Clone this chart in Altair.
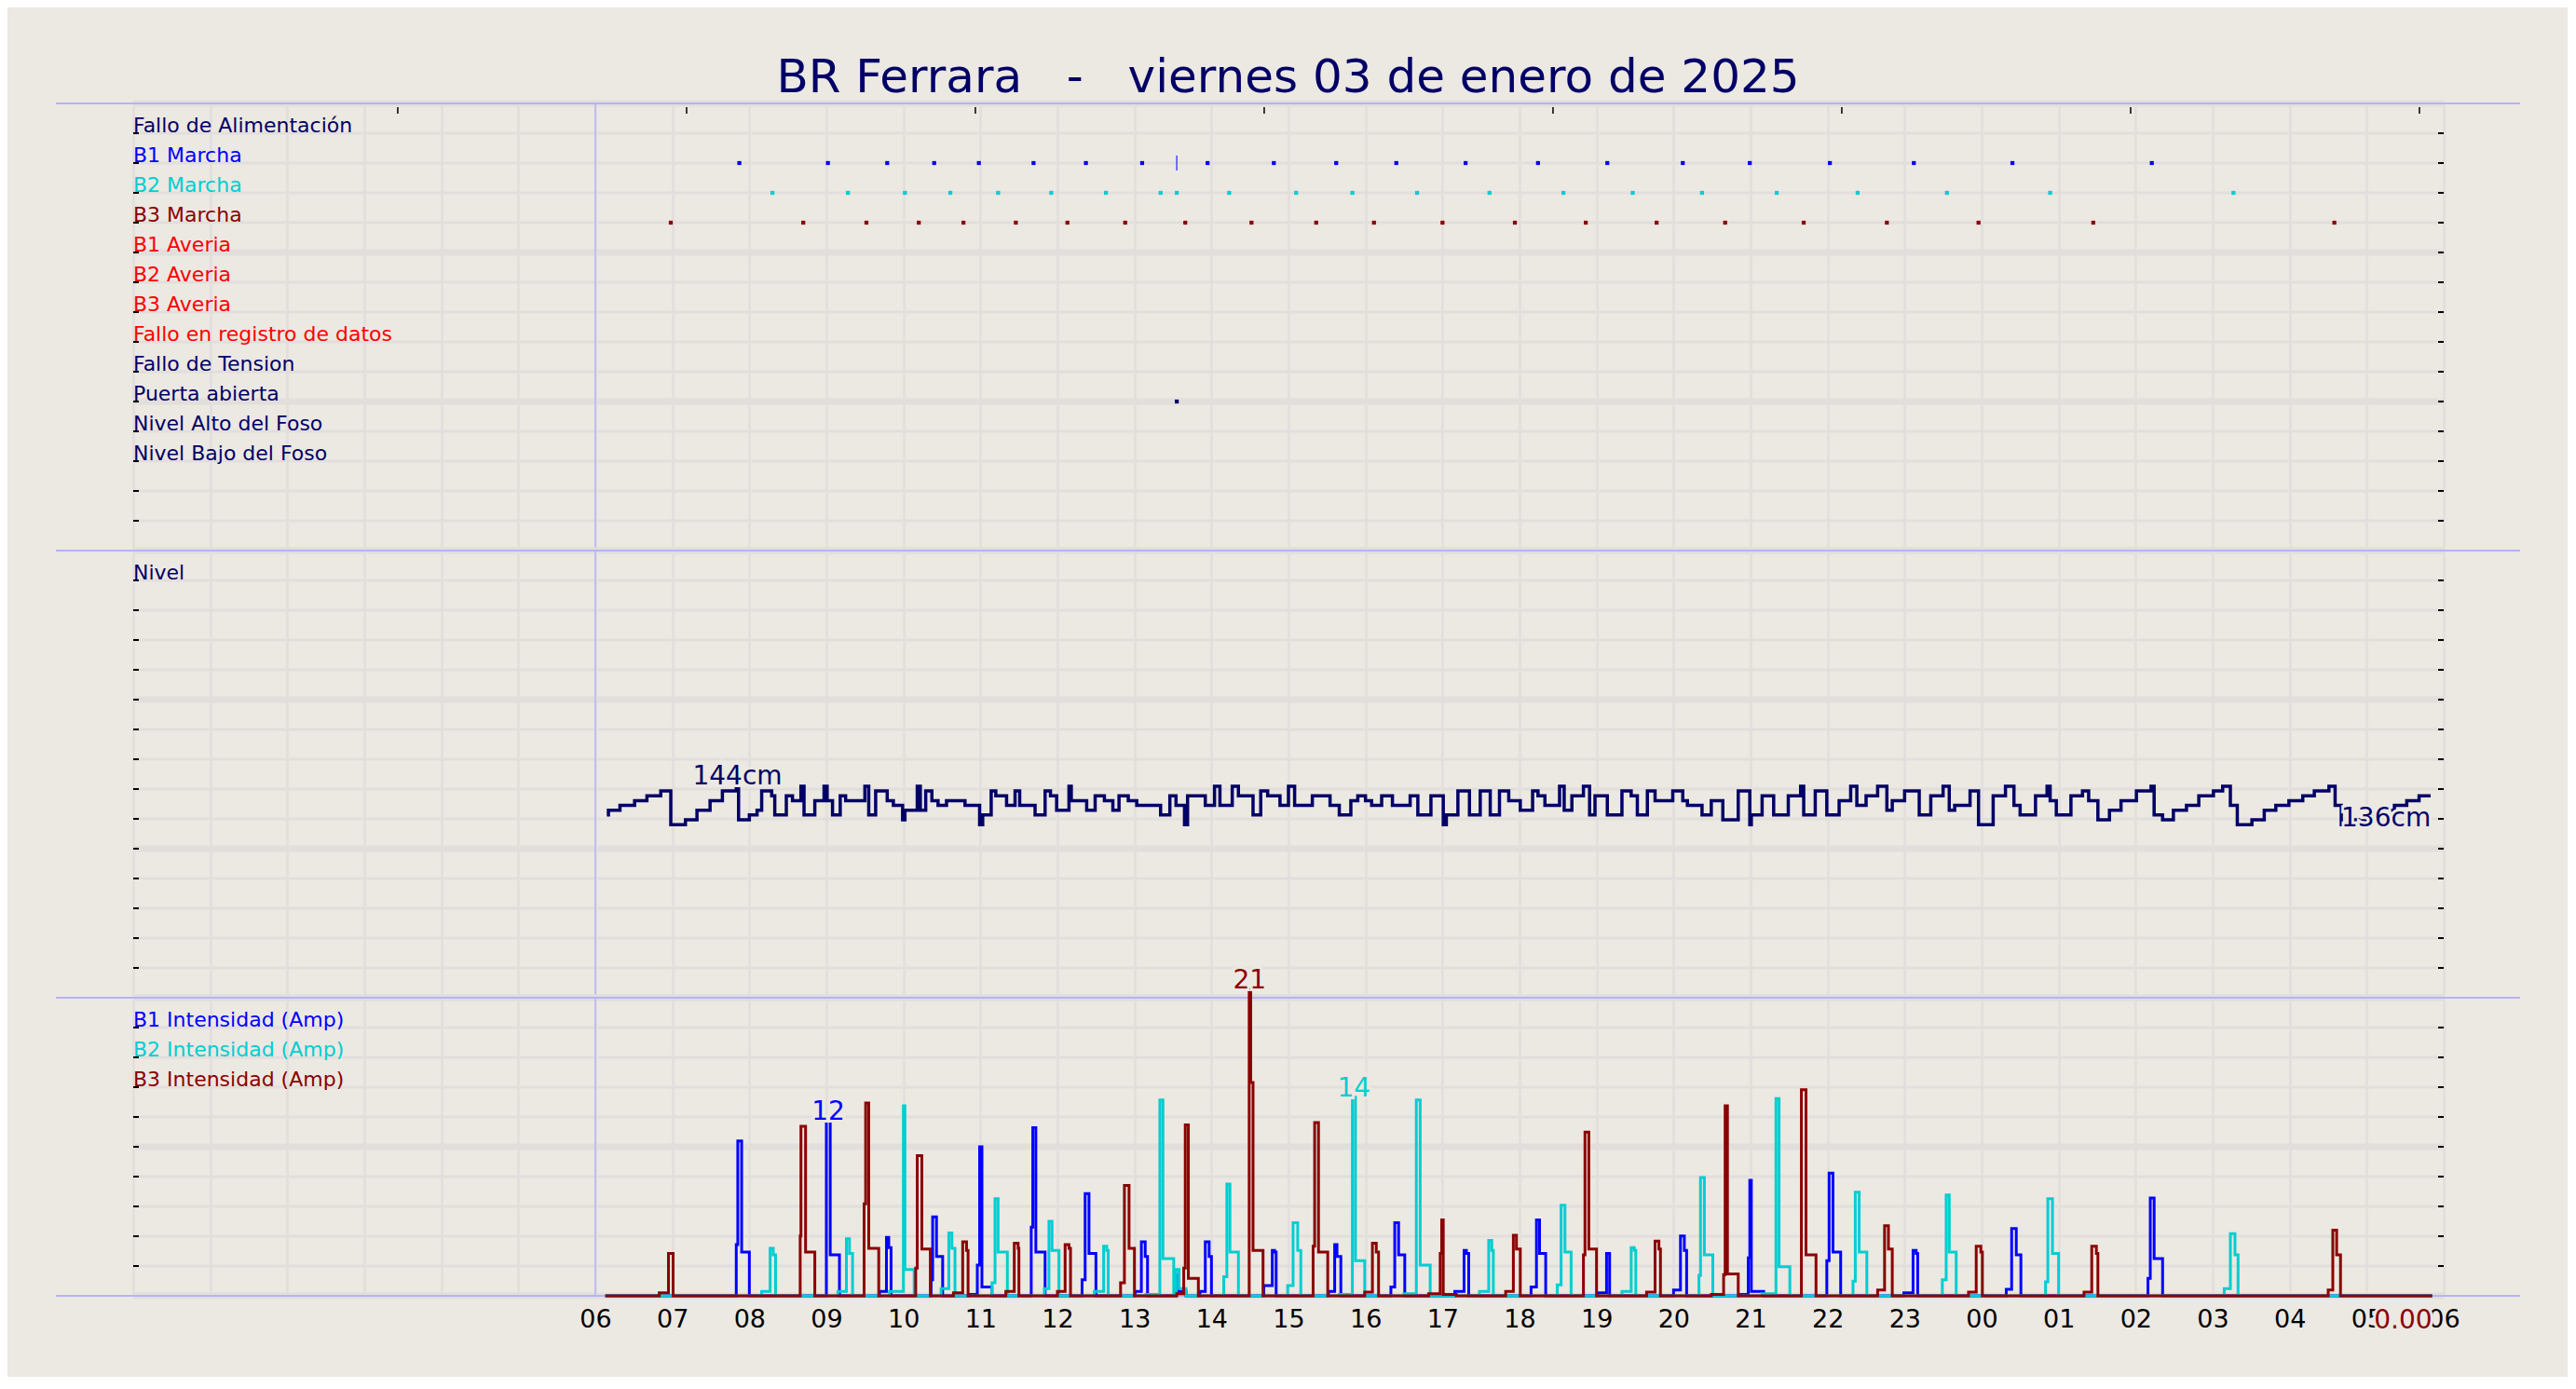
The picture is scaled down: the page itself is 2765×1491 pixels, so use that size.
import altair as alt
import pandas as pd

# ---------------- colours / fonts ----------------
BG = "#ECE8E2"
GRID = "#E2DEDC"
LAV = "#B4B4F4"
NAVY = "#000066"
BLUE = "#0000FF"
CYAN = "#00CED1"
DRED = "#8B0000"
RED = "#FF0000"
FONT = "DejaVu Sans"

W = 2480
H1, H2, H3 = 480, 480, 320

# ---------------- data ----------------
HOURS = list(range(0, 31))
TITLE = "BR Ferrara\u00a0\u00a0\u00a0-\u00a0\u00a0\u00a0viernes 03 de enero de 2025"

ROW_LABELS = ["Fallo de Alimentación", "B1 Marcha", "B2 Marcha", "B3 Marcha",
              "B1 Averia", "B2 Averia", "B3 Averia", "Fallo en registro de datos",
              "Fallo de Tension", "Puerta abierta", "Nivel Alto del Foso", "Nivel Bajo del Foso"]
ROW_COLORS = [NAVY, BLUE, CYAN, DRED, RED, RED, RED, RED, NAVY, NAVY, NAVY, NAVY]

B1_MARCHA = [7.87, 9.02, 9.79, 10.40, 10.98, 11.69, 12.37, 13.10, 13.95, 14.81, 15.62,
             16.40, 17.30, 18.24, 19.14, 20.12, 20.99, 22.03, 23.12, 24.40, 26.21]
B1_MARCHA_LONG = [13.55]
B2_MARCHA = [8.30, 9.28, 10.02, 10.61, 11.23, 11.92, 12.63, 13.34, 13.55, 14.23, 15.10,
             15.83, 16.67, 17.61, 18.57, 19.47, 20.37, 21.34, 22.39, 23.55, 24.89, 27.27]
B3_MARCHA = [6.98, 8.70, 9.52, 10.20, 10.78, 11.46, 12.13, 12.88, 13.66, 14.52, 15.36,
             16.11, 17.00, 17.94, 18.86, 19.78, 20.67, 21.69, 22.77, 23.96, 25.45, 28.58]
PUERTA = [13.55]
TOP_TICKS = [3.435, 7.185, 10.935, 14.685, 18.435, 22.185, 25.935, 29.685]

NIVEL = [(6.15, 138), (6.17, 139), (6.32, 140), (6.51, 141), (6.67, 142), (6.85, 143), (6.98, 136),
         (7.17, 137), (7.32, 139), (7.49, 141), (7.65, 143), (7.83, 144), (7.86, 137), (8.00, 138),
         (8.10, 139), (8.16, 143), (8.29, 142), (8.33, 138), (8.48, 142), (8.56, 141), (8.67, 144),
         (8.71, 138), (8.85, 141), (8.97, 144), (9.01, 141), (9.08, 138), (9.18, 142), (9.25, 141),
         (9.50, 144), (9.55, 138), (9.64, 143), (9.79, 141), (9.87, 140), (9.99, 137), (10.02, 139),
         (10.18, 144), (10.22, 139), (10.29, 143), (10.37, 141), (10.45, 140), (10.56, 141),
         (10.80, 140), (10.99, 136), (11.03, 138), (11.14, 143), (11.20, 142), (11.34, 140),
         (11.45, 143), (11.51, 140), (11.71, 138), (11.84, 143), (11.91, 142), (11.99, 139),
         (12.15, 144), (12.18, 141), (12.38, 139), (12.49, 142), (12.61, 141), (12.72, 139),
         (12.80, 142), (12.92, 141), (13.03, 140), (13.34, 138), (13.46, 142), (13.54, 140),
         (13.65, 136), (13.69, 142), (13.92, 140), (14.04, 144), (14.11, 140), (14.27, 144),
         (14.35, 142), (14.54, 138), (14.64, 143), (14.73, 142), (14.89, 140), (15.00, 144),
         (15.08, 140), (15.31, 142), (15.54, 140), (15.66, 138), (15.81, 141), (15.90, 142),
         (16.00, 141), (16.08, 140), (16.21, 142), (16.35, 140), (16.58, 142), (16.68, 138),
         (16.85, 142), (17.01, 136), (17.05, 138), (17.20, 143), (17.35, 138), (17.49, 143),
         (17.62, 138), (17.74, 143), (17.86, 141), (18.01, 139), (18.17, 143), (18.24, 142),
         (18.33, 140), (18.52, 144), (18.58, 139), (18.68, 142), (18.83, 144), (18.91, 138),
         (18.98, 142), (19.14, 138), (19.33, 143), (19.45, 142), (19.53, 138), (19.66, 143),
         (19.76, 141), (19.99, 143), (20.12, 141), (20.18, 140), (20.37, 138), (20.49, 141),
         (20.64, 137), (20.84, 143), (20.99, 136), (21.01, 138), (21.15, 142), (21.30, 138),
         (21.49, 142), (21.65, 144), (21.69, 138), (21.84, 143), (21.99, 138), (22.15, 141),
         (22.30, 144), (22.38, 140), (22.50, 142), (22.65, 144), (22.77, 139), (22.84, 141),
         (23.00, 143), (23.19, 138), (23.34, 142), (23.50, 144), (23.58, 139), (23.65, 140),
         (23.85, 143), (23.96, 136), (24.15, 142), (24.31, 144), (24.42, 140), (24.50, 138),
         (24.70, 142), (24.85, 144), (24.89, 141), (24.97, 138), (25.16, 142), (25.31, 143),
         (25.39, 141), (25.51, 137), (25.66, 139), (25.81, 141), (26.01, 143), (26.20, 144),
         (26.24, 138), (26.35, 137), (26.49, 139), (26.66, 140), (26.82, 142), (27.01, 143),
         (27.13, 144), (27.23, 140), (27.32, 136), (27.51, 137), (27.67, 139), (27.82, 140),
         (27.99, 141), (28.17, 142), (28.32, 143), (28.51, 144), (28.59, 140), (28.67, 136),
         (28.82, 137), (28.98, 138), (29.17, 139), (29.36, 140), (29.52, 141), (29.68, 142),
         (29.83, 142)]

B1_PTS = [(6.13, 0),
          (7.83, 3.5), (7.85, 10.6), (7.90, 3.0), (8.00, 0),
          (9.00, 12.0), (9.05, 2.8), (9.17, 0),
          (9.69, 0.3), (9.78, 4.0), (9.81, 3.3), (9.84, 0),
          (10.36, 1.1), (10.38, 5.4), (10.43, 2.7), (10.51, 0),
          (10.85, 0.1), (10.96, 2.1), (10.99, 10.2), (11.02, 0.6), (11.15, 0),
          (11.66, 4.7), (11.68, 11.5), (11.72, 3.0), (11.84, 0),
          (12.32, 1.1), (12.36, 7.0), (12.41, 2.9), (12.50, 0),
          (13.01, 0.3), (13.09, 3.7), (13.14, 2.7), (13.17, 0),
          (13.53, 1.4), (13.57, 0.3), (13.67, 0),
          (13.85, 0.3), (13.92, 3.7), (13.97, 2.7), (14.00, 0),
          (14.68, 0.7), (14.79, 3.1), (14.82, 3.0), (14.84, 0),
          (15.52, 0.3), (15.60, 3.5), (15.63, 2.7), (15.68, 0),
          (16.33, 0.6), (16.38, 5.0), (16.43, 2.8), (16.51, 0),
          (17.16, 0.3), (17.28, 3.1), (17.31, 2.9), (17.34, 0),
          (18.15, 0.6), (18.22, 5.2), (18.26, 2.9), (18.34, 0),
          (19.02, 0.2), (19.13, 2.9), (19.17, 0),
          (20.00, 0.4), (20.09, 4.1), (20.14, 3.1), (20.17, 0),
          (20.85, 0.1), (20.97, 2.6), (20.99, 7.9), (21.01, 0.3), (21.17, 0),
          (21.99, 2.4), (22.02, 8.4), (22.07, 3.0), (22.17, 0),
          (22.99, 0.2), (23.11, 3.1), (23.15, 2.9), (23.17, 0),
          (24.32, 0.45), (24.39, 4.6), (24.45, 2.8), (24.51, 0),
          (26.16, 1.2), (26.19, 6.7), (26.24, 2.55), (26.35, 0),
          (29.85, 0)]

B2_PTS = [(6.13, 0),
          (8.16, 0.3), (8.27, 3.25), (8.31, 2.8), (8.34, 0),
          (9.15, 0.3), (9.26, 3.9), (9.30, 2.9), (9.34, 0),
          (9.82, 0.3), (10.00, 13.0), (10.02, 1.8), (10.14, 0),
          (10.49, 0.5), (10.59, 4.3), (10.63, 3.25), (10.67, 0),
          (11.15, 0.9), (11.19, 6.65), (11.23, 3.0), (11.35, 0),
          (11.83, 0.5), (11.89, 5.1), (11.93, 3.1), (12.02, 0),
          (12.48, 0.3), (12.60, 3.4), (12.64, 3.1), (12.66, 0),
          (13.15, 0.1), (13.33, 13.4), (13.37, 2.55), (13.51, 0),
          (13.54, 1.8), (13.58, 0.5), (13.67, 0),
          (14.16, 1.3), (14.20, 7.65), (14.24, 3.0), (14.35, 0),
          (14.99, 0.7), (15.06, 5.0), (15.12, 3.1), (15.16, 0),
          (15.66, 0.1), (15.83, 13.6), (15.87, 2.4), (15.99, 0),
          (16.50, 0.15), (16.66, 13.4), (16.71, 2.1), (16.84, 0),
          (17.48, 0.3), (17.60, 3.8), (17.64, 3.1), (17.66, 0),
          (18.49, 0.75), (18.54, 6.2), (18.59, 3.0), (18.67, 0),
          (19.33, 0.3), (19.45, 3.3), (19.49, 3.1), (19.51, 0),
          (20.33, 1.4), (20.35, 8.1), (20.40, 2.8), (20.51, 0),
          (21.15, 0.15), (21.33, 13.5), (21.37, 2.0), (21.51, 0),
          (22.33, 1.0), (22.36, 7.1), (22.41, 3.0), (22.51, 0),
          (23.49, 1.1), (23.54, 6.9), (23.58, 3.0), (23.67, 0),
          (24.83, 0.95), (24.86, 6.65), (24.92, 2.9), (25.00, 0),
          (27.15, 0.5), (27.23, 4.25), (27.29, 2.8), (27.33, 0),
          (29.85, 0)]

B3_PTS = [(6.13, 0),
          (6.83, 0.2), (6.95, 2.9), (7.01, 0),
          (8.66, 4.1), (8.67, 11.6), (8.73, 3.0), (8.85, 0),
          (9.49, 6.3), (9.51, 13.2), (9.55, 3.25), (9.68, 0),
          (10.16, 1.9), (10.18, 9.6), (10.24, 3.2), (10.35, 0),
          (10.65, 0.2), (10.77, 3.7), (10.82, 3.1), (10.84, 0),
          (11.33, 0.3), (11.44, 3.6), (11.49, 3.25), (11.50, 0),
          (12.00, 0.3), (12.10, 3.5), (12.15, 3.25), (12.17, 0),
          (12.82, 0.9), (12.87, 7.55), (12.93, 3.25), (13.00, 0),
          (13.55, 0.15), (13.64, 1.9), (13.66, 11.7), (13.70, 1.2), (13.83, 0),
          (14.49, 21.0), (14.51, 14.6), (14.54, 3.1), (14.67, 0),
          (15.32, 3.4), (15.34, 11.85), (15.39, 3.0), (15.51, 0),
          (15.99, 0.25), (16.09, 3.6), (16.14, 3.0), (16.17, 0),
          (16.82, 0.15), (16.97, 2.9), (16.99, 5.2), (17.01, 0.1), (17.18, 0),
          (17.82, 0.3), (17.92, 4.15), (17.96, 3.2), (18.01, 0),
          (18.83, 2.8), (18.85, 11.2), (18.90, 3.2), (19.00, 0),
          (19.65, 0.25), (19.76, 3.75), (19.81, 3.2), (19.83, 0),
          (20.49, 0.1), (20.65, 1.45), (20.67, 13.0), (20.70, 1.5), (20.84, 0),
          (21.66, 14.1), (21.72, 2.8), (21.85, 0),
          (22.65, 0.4), (22.74, 4.8), (22.79, 3.2), (22.84, 0),
          (23.83, 0.25), (23.93, 3.4), (23.99, 3.0), (24.01, 0),
          (25.33, 0.25), (25.43, 3.4), (25.49, 2.9), (25.51, 0),
          (28.50, 0.4), (28.56, 4.5), (28.61, 2.8), (28.66, 0),
          (29.85, 0)]

# value labels: text, hour, value, colour, align, dy
AMP_LABELS = [("12", 9.025, 12.0, BLUE, "center", -9),
              ("14", 15.85, 13.6, CYAN, "center", -9),
              ("21", 14.495, 21.0, DRED, "center", -9),
              ("0.00", 29.85, 0.0, DRED, "right", 27)]
NIVEL_LABELS = [("144cm", 7.845, 144, NAVY, "center", -10),
                ("136cm", 28.67, 136, NAVY, "left", -6)]

# ---------------- helpers ----------------
XSCALE = alt.Scale(domain=[0, 30], nice=False, zero=False)
LABEL_EXPR = ("datum.value < 6 ? '' : ((datum.value % 24) < 10 ? '0' : '') + (datum.value % 24)")


def xaxis(labels):
    return alt.Axis(values=HOURS, grid=True, gridColor=GRID, gridWidth=2.5, ticks=False,
                    domain=False, labels=labels, title=None, labelExpr=LABEL_EXPR,
                    labelFont=FONT, labelFontSize=27, labelColor="black", labelPadding=12,
                    labelOverlap=False, labelFlush=False, labelBound=False, tickSize=0)


def xenc(field, labels):
    return alt.X(field, type="quantitative", scale=XSCALE, axis=xaxis(labels))


def row_scale(n):
    return alt.Scale(domain=[0, n], reverse=True, nice=False, zero=False)


def base_layers(n, height, labels, xlabels, bottom_line=False):
    rows = pd.DataFrame({"r": list(range(n + 1))})
    rows["w"] = [7 if r % 5 == 0 else 3 for r in rows["r"]]
    ticks = pd.DataFrame({"r": list(range(1, n))})
    ys = row_scale(n)
    grid = alt.Chart(rows).mark_rule(color=GRID).encode(
        x=alt.value(0), x2=alt.value(W),
        y=alt.Y("r:Q", scale=ys, axis=None),
        strokeWidth=alt.StrokeWidth("w:Q", scale=None))
    hours = pd.DataFrame({"h": HOURS})
    vgrid = alt.Chart(hours).mark_rule(opacity=0).encode(x=xenc("h", xlabels))
    lt = alt.Chart(ticks).mark_rule(color="black", strokeWidth=2).encode(
        x=alt.value(0), x2=alt.value(6), y=alt.Y("r:Q", scale=ys, axis=None))
    rt = alt.Chart(ticks).mark_rule(color="black", strokeWidth=2).encode(
        x=alt.value(W - 6), x2=alt.value(W), y=alt.Y("r:Q", scale=ys, axis=None))
    lab = pd.DataFrame({"t": [l for l, _ in labels], "c": [c for _, c in labels],
                        "r": list(range(1, len(labels) + 1))})
    labtxt = alt.Chart(lab).mark_text(align="left", baseline="alphabetic", dy=-1,
                                      font=FONT, fontSize=22).encode(
        x=alt.datum(0), y=alt.Y("r:Q", scale=ys, axis=None),
        text="t:N", color=alt.Color("c:N", scale=None))
    six = alt.Chart(pd.DataFrame({"h": [6]})).mark_rule(color=LAV, strokeWidth=1.5).encode(
        x=xenc("h", xlabels), y=alt.value(0), y2=alt.value(height))
    top = alt.Chart(pd.DataFrame({"h": [0]})).mark_rule(color=LAV, strokeWidth=2).encode(
        x=alt.value(-83), x2=alt.value(W + 82), y=alt.value(0))
    layers = [vgrid, grid, six, top, lt, rt, labtxt]
    if bottom_line:
        bot = alt.Chart(pd.DataFrame({"h": [0]})).mark_rule(color=LAV, strokeWidth=2).encode(
            x=alt.value(-83), x2=alt.value(W + 82), y=alt.value(height))
        layers.append(bot)
    return layers, ys


def value_labels(items, yfield_scale, xlabels, fontsize=28):
    out = []
    for txt, h, v, col, al, dy in items:
        df = pd.DataFrame({"h": [h], "v": [v], "t": [txt]})
        enc = dict(x=xenc("h", xlabels),
                   y=alt.Y("v:Q", scale=yfield_scale, axis=None), text="t:N")
        halo = alt.Chart(df).mark_text(align=al, dy=dy, font=FONT, fontSize=fontsize,
                                       fill=BG, stroke=BG, strokeWidth=6).encode(**enc)
        t = alt.Chart(df).mark_text(align=al, dy=dy, font=FONT, fontSize=fontsize,
                                    color=col).encode(**enc)
        out += [halo, t]
    return out


# ---------------- panel 1: events ----------------
layers1, ys1 = base_layers(15, H1, list(zip(ROW_LABELS, ROW_COLORS)), False)
ev = pd.DataFrame(
    [(h, 2, BLUE) for h in B1_MARCHA] + [(h, 3, CYAN) for h in B2_MARCHA] +
    [(h, 4, DRED) for h in B3_MARCHA] + [(h, 10, NAVY) for h in PUERTA],
    columns=["h", "r", "c"])
events = alt.Chart(ev).mark_square(size=18, opacity=1).encode(
    x=xenc("h", False), y=alt.Y("r:Q", scale=ys1, axis=None),
    color=alt.Color("c:N", scale=None))
evlong = alt.Chart(pd.DataFrame({"h": B1_MARCHA_LONG, "r": [2]})).mark_tick(
    color=BLUE, thickness=1.5, size=16, orient="vertical").encode(
    x=xenc("h", False), y=alt.Y("r:Q", scale=ys1, axis=None))
tt = alt.Chart(pd.DataFrame({"h": TOP_TICKS})).mark_rule(color="black", strokeWidth=1.5).encode(
    x=xenc("h", False), y=alt.value(4), y2=alt.value(11))
p1 = alt.layer(*layers1, tt, events, evlong).properties(width=W, height=H1)

# ---------------- panel 2: level ----------------
layers2, ys2 = base_layers(15, H2, [("Nivel", NAVY)], False)
CM_SCALE = alt.Scale(domain=[100, 193], nice=False, zero=False)
niv = pd.DataFrame(NIVEL, columns=["h", "v"])
level = alt.Chart(niv).mark_line(interpolate="step-after", color=NAVY, strokeWidth=3.5).encode(
    x=xenc("h", False), y=alt.Y("v:Q", scale=CM_SCALE, axis=None))
p2 = alt.layer(*layers2, level, *value_labels(NIVEL_LABELS, CM_SCALE, False)).properties(
    width=W, height=H2).resolve_scale(y="independent")

# ---------------- panel 3: currents ----------------
layers3, ys3 = base_layers(10, H3, [("B1 Intensidad (Amp)", BLUE), ("B2 Intensidad (Amp)", CYAN),
                                    ("B3 Intensidad (Amp)", DRED)], True, bottom_line=True)
AMP_SCALE = alt.Scale(domain=[0, 20.4], nice=False, zero=True)
series = []
for pts, col in [(B1_PTS, BLUE), (B2_PTS, CYAN), (B3_PTS, DRED)]:
    df = pd.DataFrame(pts, columns=["h", "a"])
    series.append(alt.Chart(df).mark_line(interpolate="step-after", color=col, strokeWidth=3).encode(
        x=xenc("h", True), y=alt.Y("a:Q", scale=AMP_SCALE, axis=None)))
p3 = alt.layer(*layers3, *series, *value_labels(AMP_LABELS, AMP_SCALE, True)).properties(
    width=W, height=H3).resolve_scale(y="independent")

chart = alt.vconcat(p1, p2, p3, spacing=0, bounds="flush").properties(
    title=alt.TitleParams(TITLE, font=FONT, fontSize=50, fontWeight="normal", color=NAVY,
                          anchor="middle", baseline="alphabetic", offset=-41),
    background=BG,
    padding={"left": 51, "top": 50, "right": 50, "bottom": 46},
).configure_view(stroke=None)

chart.save("out.html", embed_options={"renderer": "svg", "actions": False})
